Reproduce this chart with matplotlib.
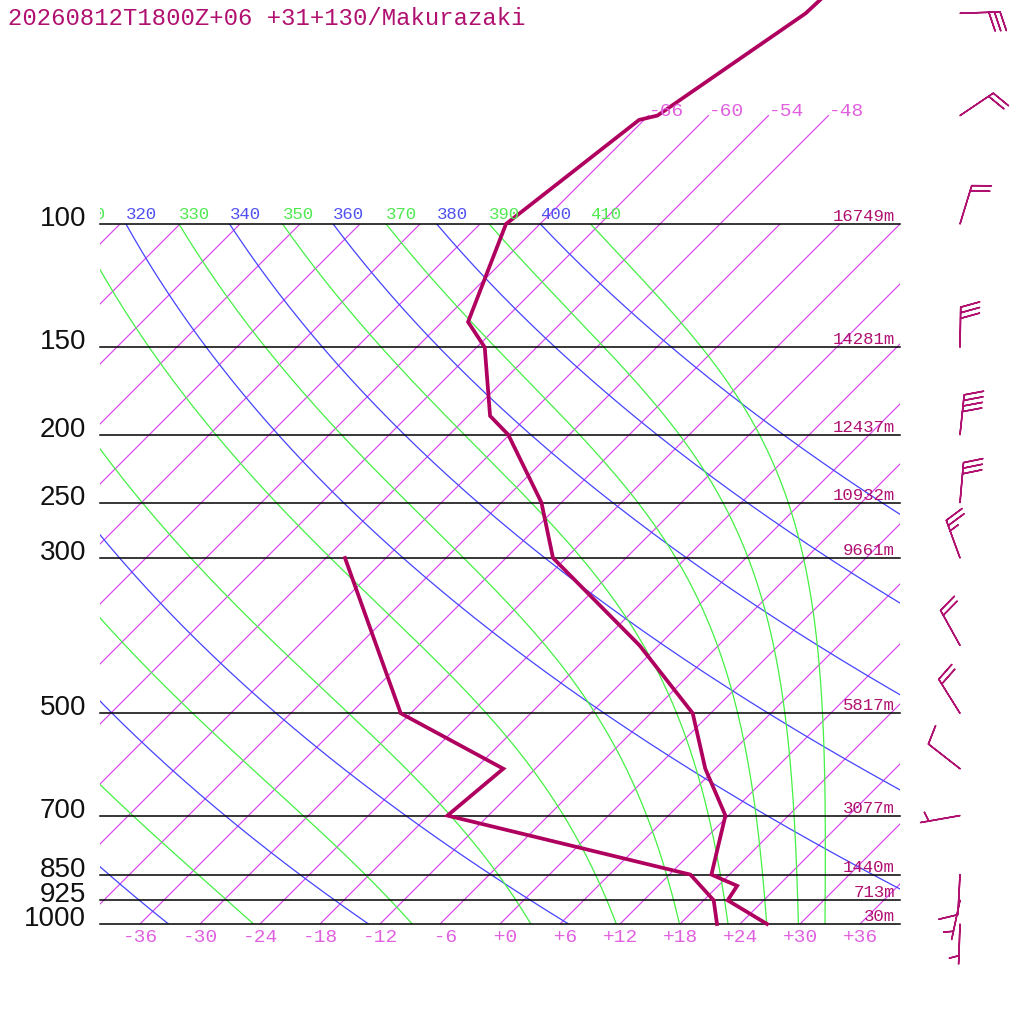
import numpy as np
import matplotlib
matplotlib.use("Agg")
import matplotlib.pyplot as plt
from matplotlib.patches import Rectangle

# ---- sounding data ----
title = "20260812T1800Z+06 +31+130/Makurazaki"

temp_p = [1000, 925, 882, 850, 700, 600, 500, 400, 300, 250, 200, 188, 150, 138, 100, 71, 70, 50, 40]
temp_t = [26.7, 20.4, 19.9, 16.2, 11.7, 5.0, -1.8, -13.9, -31.3, -38.0, -48.1, -51.8, -59.2, -63.4, -69.4, -66.5, -65.1, -60.5, -60.0]

dew_p = [1000, 925, 850, 700, 600, 500, 300]
dew_t = [21.7, 19.0, 14.1, -16.1, -15.2, -31.0, -52.1]

isobars = [100, 150, 200, 250, 300, 500, 700, 850, 925, 1000]
heights = ["16749m", "14281m", "12437m", "10932m", "9661m", "5817m", "3077m", "1440m", "713m", "30m"]

wind_p = [50, 70, 100, 150, 200, 250, 300, 400, 500, 600, 700, 850, 925, 1000]
wind_dir = [88, 56, 17, 1, 6, 5, 340, 331, 328, 308, 260, 183, 192, 182]
wind_spd = [30, 20, 20, 30, 40, 30, 25, 20, 20, 10, 5, 10, 5, 5]

temp_ticks = [-36, -30, -24, -18, -12, -6, 0, 6, 12, 18, 24, 30, 36]
top_isotherms = [-66, -60, -54, -48]
theta_vals = [240, 260, 280, 320, 340, 360, 380, 400]
thetae_vals = [230, 250, 270, 290, 310, 330, 350, 370, 390, 410]

# ---- style ----
LINE = "#b0005f"
TXT = "#b01070"
ISO = "#d844ec"
ISO_TXT = "#e060e0"
BLUE = "#4444ff"
GREEN = "#44f044"
SKEW = 30.4          # deg per ln(p) unit
PT = 0.72            # points per pixel at dpi 100


def skew_x(t, p):
    return np.asarray(t, dtype=float) + SKEW * np.log(1000.0 / np.asarray(p, dtype=float))


def theta_e(tc, p):
    tk = tc + 273.15
    es = 6.112 * np.exp(17.67 * tc / (tc + 243.5))
    r = 622.0 * es / (p - es)
    th = tk * (1000.0 / (p - es)) ** 0.2854
    return th * np.exp((3.376 / tk - 0.00254) * r * (1 + 0.00081 * r))


def moist_t(te, p):
    lo = np.full_like(p, -130.0)
    hi = np.full_like(p, 40.0)
    for _ in range(60):
        mid = 0.5 * (lo + hi)
        big = theta_e(mid, p) > te
        hi = np.where(big, mid, hi)
        lo = np.where(big, lo, mid)
    return 0.5 * (lo + hi)


fig = plt.figure(figsize=(10.24, 10.24), dpi=100)
ax = fig.add_axes([0, 0, 1, 1])
ax.set_yscale("log")
ax.set_xlim(-50, 52.4)
ax.set_ylim(1000 * np.exp(100 / 304), 1000 * np.exp(-924 / 304))
ax.axis("off")

box = Rectangle((-40, 100), 80, 900, transform=ax.transData, fill=False, lw=0)
wide = Rectangle((-40, 30), 80, 1500, transform=ax.transData, fill=False, lw=0)

pp = np.geomspace(100, 1000, 300)

# isotherms
for t in range(-120, 48, 6):
    ln, = ax.plot(skew_x(t, [100, 1000]), [100, 1000], color=ISO, lw=0.85)
    ln.set_clip_path(box)
for t in top_isotherms:
    ax.plot(skew_x(t, [100, 70]), [100, 70], color=ISO, lw=0.85)
    ax.annotate(f"{t:+3d}", (skew_x(t, 70), 70), xytext=(0, 0), textcoords="offset points",
                ha="left", va="baseline", fontsize=14, family="Liberation Mono", color=ISO_TXT)

# dry adiabats
for th in theta_vals:
    tt = th * (pp / 1000.0) ** 0.2857 - 273.15
    ln, = ax.plot(skew_x(tt, pp), pp, color=BLUE, lw=0.9)
    ln.set_clip_path(box)
    tx = ax.annotate(str(th), (skew_x(tt[0], 100), 100), xytext=(0, 5 * PT), textcoords="offset points",
                     ha="left", va="baseline", fontsize=12.5, family="Liberation Mono", color="#5050f0")
    tx.set_clip_path(wide)

# moist adiabats
for te in thetae_vals:
    tt = moist_t(te, pp)
    ln, = ax.plot(skew_x(tt, pp), pp, color=GREEN, lw=0.9)
    ln.set_clip_path(box)
    tx = ax.annotate(str(te), (skew_x(tt[0], 100), 100), xytext=(0, 5 * PT), textcoords="offset points",
                     ha="left", va="baseline", fontsize=12.5, family="Liberation Mono", color="#50e850")
    tx.set_clip_path(wide)

# isobars, pressure and height labels
for p, h in zip(isobars, heights):
    ax.plot([-40, 40], [p, p], color="black", lw=1.1)
    ax.annotate(str(p), (-41.4, p), xytext=(0, -2 * PT), textcoords="offset points",
                ha="right", va="baseline", fontsize=20, family="Liberation Sans", color="#111111")
    ax.annotate(h, (39.5, p), xytext=(0, 3 * PT), textcoords="offset points",
                ha="right", va="baseline", fontsize=12.5, family="Liberation Mono", color=TXT)

for t in temp_ticks:
    ax.annotate(f"{t:+3d}", (t, 1000), xytext=(0, -13 * PT), textcoords="offset points",
                ha="center", va="center", fontsize=14, family="Liberation Mono", color=ISO_TXT)

# sounding
ax.plot(skew_x(temp_t, temp_p), temp_p, color=LINE, lw=2.7, clip_on=False, solid_joinstyle="miter")
ax.plot(skew_x(dew_t, dew_p), dew_p, color=LINE, lw=2.7, clip_on=False, solid_joinstyle="miter")

# winds: barbs drawn on a flat pixel overlay, positioned from the skew-T axes
ovl = fig.add_axes([0, 0, 1, 1], facecolor="none")
ovl.set_xlim(0, 1024)
ovl.set_ylim(0, 1024)
ovl.axis("off")
base = ax.transData.transform(np.column_stack([np.full(len(wind_p), 46.0), wind_p]))
wd = np.radians(wind_dir)
u = -np.array(wind_spd) * np.sin(wd)
v = -np.array(wind_spd) * np.cos(wd)
ovl.barbs(base[:, 0], base[:, 1], u, v, length=7.6,
          sizes=dict(spacing=0.14, height=0.47, width=0.28, emptybarb=0.0),
          color=TXT, linewidth=1.1, clip_on=False)

fig.text(8 / 1024, 1 - 25 / 1024, title, fontsize=17.2, family="Liberation Mono", color=TXT,
         ha="left", va="baseline")

fig.savefig("out.png", dpi=100)
